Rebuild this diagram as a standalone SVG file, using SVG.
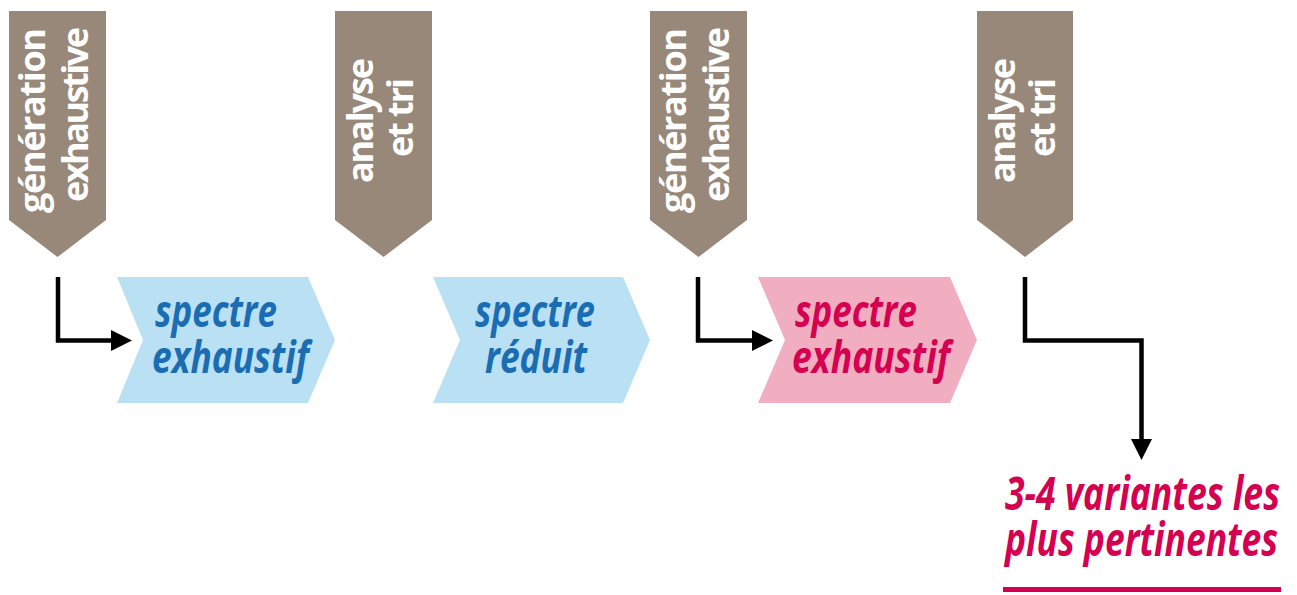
<svg xmlns="http://www.w3.org/2000/svg" width="1297" height="595" viewBox="0 0 1297 595">
<style>
.banner{fill:#978879}
.btxt{font-family:"Open Sans","Liberation Sans",sans-serif;font-weight:bold;font-size:36px;fill:#ffffff;text-anchor:middle}
.blue{fill:#bae0f3}
.pink{fill:#f2aec1}
.ctxt{font-family:"Open Sans","Liberation Sans",sans-serif;font-weight:bold;font-style:italic;font-size:44px}
.rtxt{font-family:"Open Sans","Liberation Sans",sans-serif;font-weight:bold;font-style:italic;font-size:46px}
.bt{fill:#1b6db3}
.pt{fill:#d5004f}
.conn{fill:none;stroke:#000;stroke-width:4.5}
</style>
<defs>
<marker id="ah" viewBox="-1 -10.5 21 21" refX="0" refY="0" markerWidth="21" markerHeight="21" markerUnits="userSpaceOnUse" orient="auto">
<path d="M-1,-10.5 L20,0 L-1,10.5 Z" fill="#000"/>
</marker>
</defs>
<rect width="1297" height="595" fill="#fff"/>
<g id="banner1">
<polygon class="banner" points="9,11 106,11 106,220 57.5,257 9,220"/>
<text class="btxt" transform="translate(45,120.5) rotate(-90)" textLength="185">génération</text>
<text class="btxt" transform="translate(88,114.5) rotate(-90)" textLength="175">exhaustive</text>
</g>
<g id="banner2">
<polygon class="banner" points="335,11 432,11 432,220 383.5,257 335,220"/>
<text class="btxt" transform="translate(373,120.5) rotate(-90)" textLength="125">analyse</text>
<text class="btxt" transform="translate(413,117.5) rotate(-90)" textLength="79">et tri</text>
</g>
<g id="banner3">
<polygon class="banner" points="650,11 747,11 747,220 698.5,257 650,220"/>
<text class="btxt" transform="translate(686,120.5) rotate(-90)" textLength="185">génération</text>
<text class="btxt" transform="translate(729,114.5) rotate(-90)" textLength="175">exhaustive</text>
</g>
<g id="banner4">
<polygon class="banner" points="977,11 1073,11 1073,220 1025,257 977,220"/>
<text class="btxt" transform="translate(1015,120.5) rotate(-90)" textLength="125">analyse</text>
<text class="btxt" transform="translate(1055,117.5) rotate(-90)" textLength="79">et tri</text>
</g>
<g id="chevron1">
<polygon class="blue" points="117,277 308,277 335,340 308,403 117,403 143,340"/>
<text class="ctxt bt" x="155" y="327" textLength="122" lengthAdjust="spacingAndGlyphs">spectre</text>
<text class="ctxt bt" x="152" y="373" textLength="157" lengthAdjust="spacingAndGlyphs">exhaustif</text>
</g>
<g id="chevron2">
<polygon class="blue" points="433,277 623,277 650,340 623,403 433,403 460,340"/>
<text class="ctxt bt" x="475" y="327" textLength="120" lengthAdjust="spacingAndGlyphs">spectre</text>
<text class="ctxt bt" x="485" y="373" textLength="102" lengthAdjust="spacingAndGlyphs">réduit</text>
</g>
<g id="chevron3">
<polygon class="pink" points="758,277 950,277 977,340 950,403 758,403 785,340"/>
<text class="ctxt pt" x="795" y="327" textLength="122" lengthAdjust="spacingAndGlyphs">spectre</text>
<text class="ctxt pt" x="792" y="373" textLength="158" lengthAdjust="spacingAndGlyphs">exhaustif</text>
</g>
<g id="result">
<text class="rtxt pt" x="1005" y="510" textLength="275" lengthAdjust="spacingAndGlyphs">3-4 variantes les</text>
<text class="rtxt pt" x="1005" y="556" textLength="273" lengthAdjust="spacingAndGlyphs">plus pertinentes</text>
<rect x="1003" y="587" width="278" height="5" fill="#d5004f"/>
</g>
<g id="connectors">
<path class="conn" d="M58,277 V340.5 H112" marker-end="url(#ah)"/>
<path class="conn" d="M698,277 V340.5 H753" marker-end="url(#ah)"/>
<path class="conn" d="M1025,277 V340.5 H1141.5 V440" marker-end="url(#ah)"/>
</g>
</svg>
